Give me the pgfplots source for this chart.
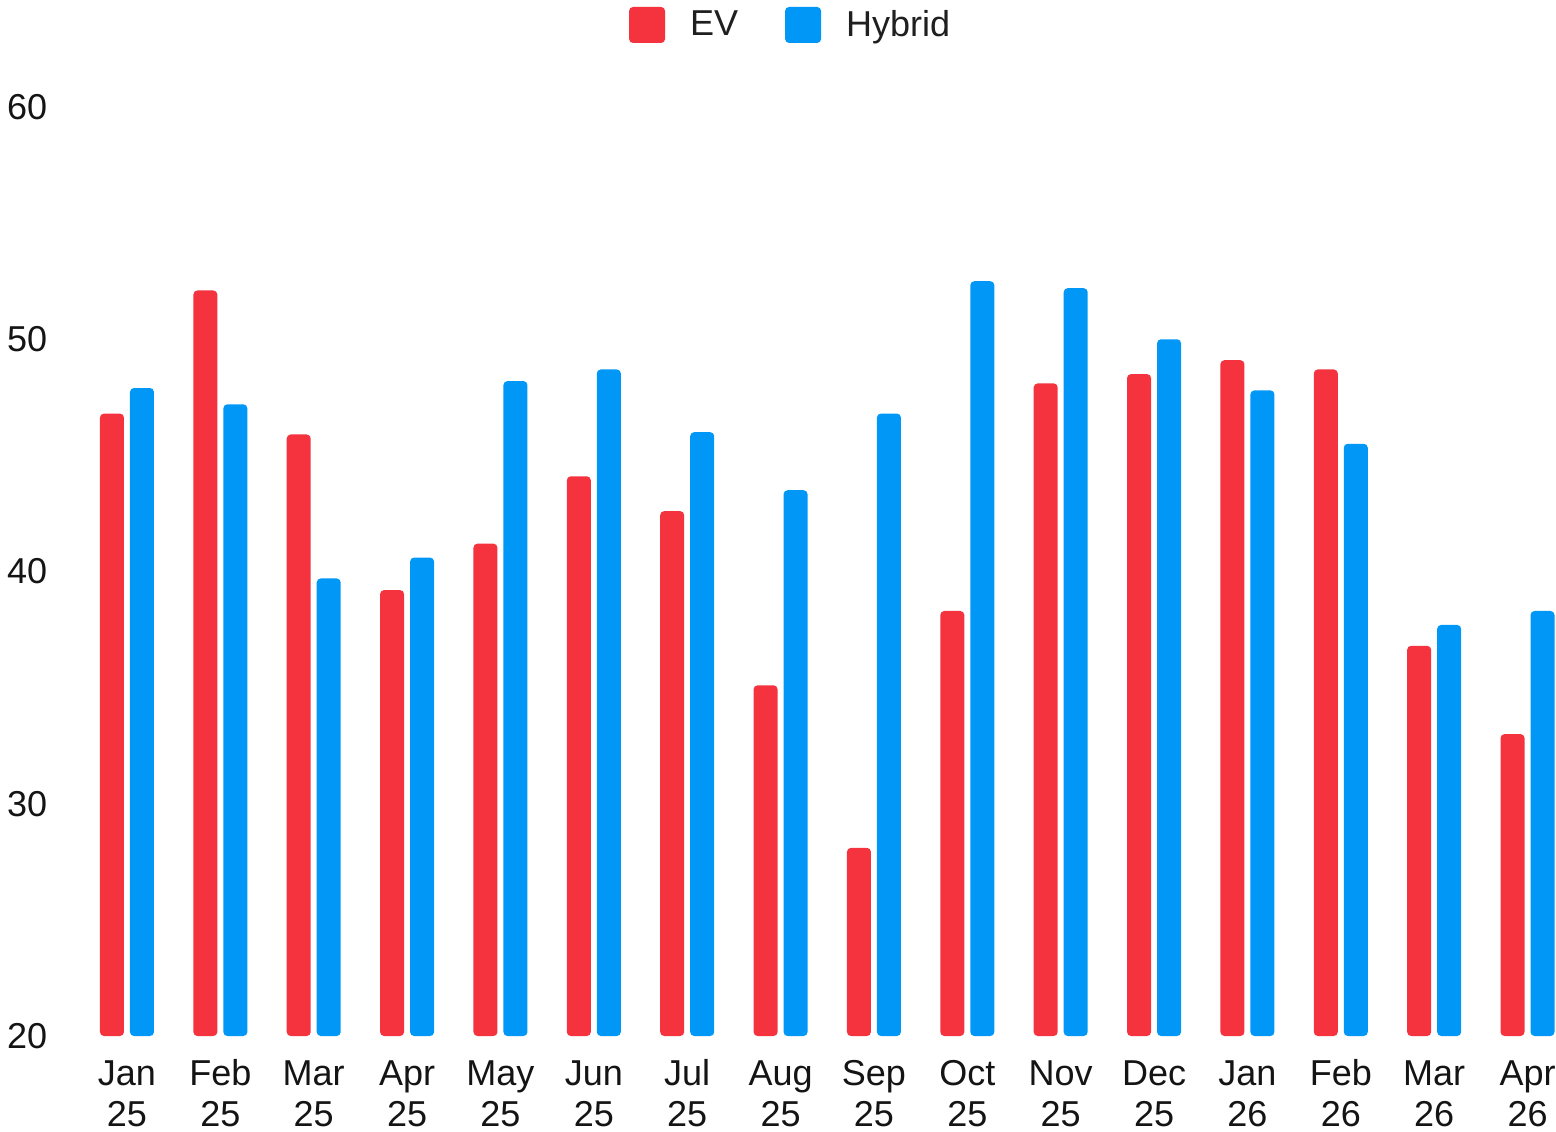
\documentclass[border=0pt]{standalone}
\usepackage{fontspec}
\setmainfont{Liberation Sans}
\usepackage{pgfplots}
\pgfplotsset{compat=1.18}
\definecolor{evred}{HTML}{F4333F}
\definecolor{hybblue}{HTML}{0097F7}
% two-line month label
\newcommand{\tl}[2]{\begin{tabular}{@{}c@{}}#1\\#2\end{tabular}}
\begin{document}
\begin{tikzpicture}
\begin{axis}[
    scale only axis,
    width=728pt, height=464.5pt,
    xmin=-0.289, xmax=15.305,
    ymin=20, ymax=60,
    ytick={20,30,40,50,60},
    xtick={0,...,15},
    xticklabels={\tl{Jan}{25},\tl{Feb}{25},\tl{Mar}{25},\tl{Apr}{25},\tl{May}{25},\tl{Jun}{25},\tl{Jul}{25},\tl{Aug}{25},\tl{Sep}{25},\tl{Oct}{25},\tl{Nov}{25},\tl{Dec}{25},\tl{Jan}{26},\tl{Feb}{26},\tl{Mar}{26},\tl{Apr}{26}},
    axis line style={draw=none},
    major tick length=0pt,
    ticklabel style={/pgf/number format/assume math mode=true, text=black!92},
    xticklabel style={font=\fontsize{18}{20.5}\selectfont, anchor=north, yshift=-6.8pt},
    yticklabel style={font=\fontsize{18}{21}\selectfont, anchor=west, xshift=-50pt},
    ybar,
    bar width=12pt,
    every axis plot/.append style={draw=none, rounded corners=2pt},
    legend columns=2,
    legend style={draw=none, at={(0.475,1.0883)}, anchor=center,
        font=\fontsize{18}{21}\selectfont, text=black!88,
        /tikz/every odd column/.append style={column sep=10.5pt},
        /tikz/every even column/.append style={column sep=21.5pt}},
    legend image code/.code={\fill[#1] (0pt,-9pt) rectangle (18pt,9pt);},
]
\addplot[fill=evred, bar shift=-7.5pt] coordinates {
    (0,46.8) (1,52.1) (2,45.9) (3,39.2) (4,41.2) (5,44.1) (6,42.6) (7,35.1)
    (8,28.1) (9,38.3) (10,48.1) (11,48.5) (12,49.1) (13,48.7) (14,36.8) (15,33.0)
};
\addplot[fill=hybblue, bar shift=7.5pt] coordinates {
    (0,47.9) (1,47.2) (2,39.7) (3,40.6) (4,48.2) (5,48.7) (6,46.0) (7,43.5)
    (8,46.8) (9,52.5) (10,52.2) (11,50.0) (12,47.8) (13,45.5) (14,37.7) (15,38.3)
};
\legend{EV,Hybrid}
\coordinate (sw) at (rel axis cs:0,0);
\end{axis}
\pgfresetboundingbox
\path ([shift={(-50pt,-47.5pt)}]sw) rectangle ([shift={(728pt,518pt)}]sw);
\end{tikzpicture}
\end{document}
